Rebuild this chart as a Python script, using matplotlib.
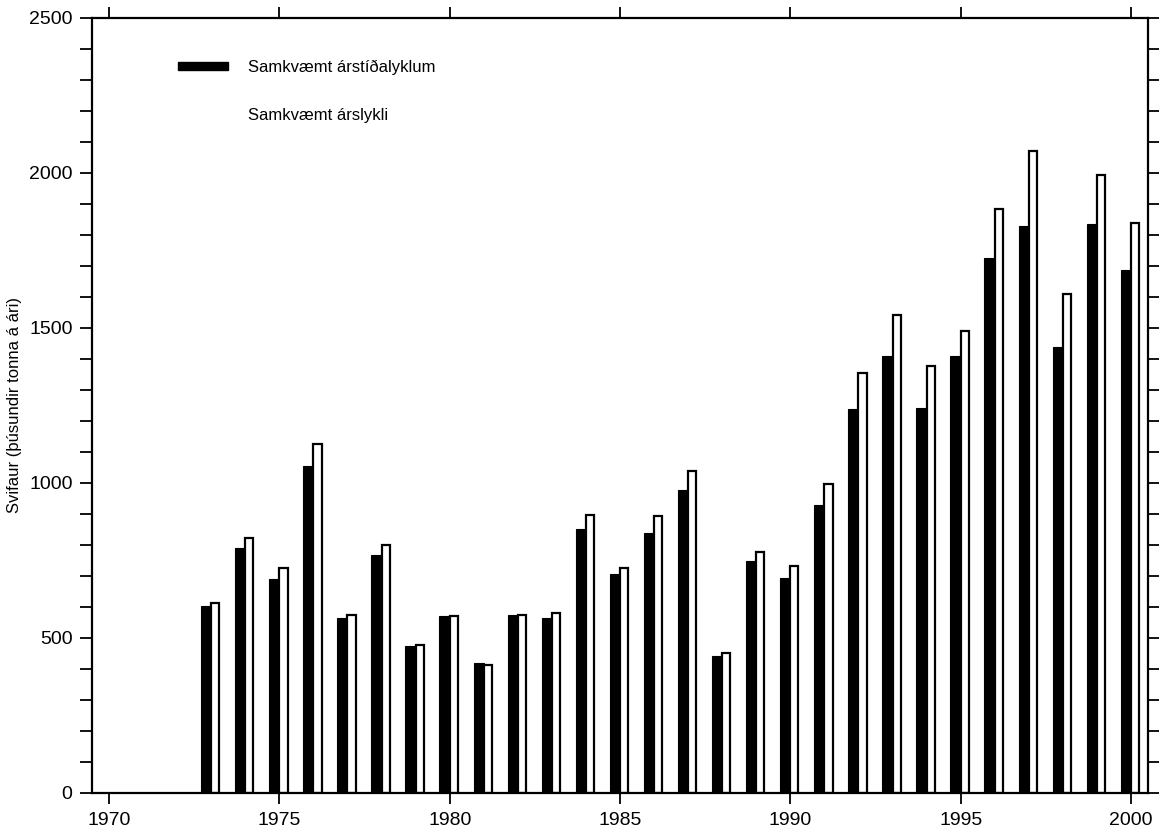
import matplotlib
matplotlib.use("Agg")
import matplotlib.pyplot as plt
from matplotlib.patches import Patch
from matplotlib.ticker import MultipleLocator
import numpy as np

plt.rcParams['font.family'] = ['Liberation Sans', 'DejaVu Sans']

# Data (thousand tonnes per year)
years = list(range(1973, 2001))
arstidalyklar = [603, 790, 690, 1055, 565, 768, 475, 570, 420, 575,
                 565, 850, 705, 840, 978, 443, 748, 693, 930, 1237,
                 1410, 1243, 1408, 1725, 1830, 1437, 1835, 1688]
arslykill = [613, 822, 725, 1125, 575, 800, 478, 570, 413, 575,
             580, 898, 725, 893, 1040, 450, 778, 733, 997, 1355,
             1543, 1377, 1490, 1885, 2070, 1610, 1993, 1838]
label_black = "Samkvæmt árstíðalyklum"
label_white = "Samkvæmt árslykli"
ylabel = "Svifaur (þúsundir tonna á ári)"

fig = plt.figure(figsize=(11.59, 8.34), dpi=100)
ax = fig.add_axes([0.0794, 0.0492, 0.9111, 0.9293])

x = np.array(years, dtype=float)
ax.bar(x, arstidalyklar, width=-0.3, align='edge', color='black', edgecolor='black', linewidth=0.8)
ax.bar(x, arslykill, width=0.24, align='edge', color='white', edgecolor='black', linewidth=1.6)

ax.set_xlim(1969.5, 2000.5)
ax.set_ylim(0, 2500)

ax.set_xticks(range(1970, 2001, 5))
ax.yaxis.set_major_locator(MultipleLocator(500))
ax.yaxis.set_minor_locator(MultipleLocator(100))
ax.tick_params(axis='x', which='major', direction='out', top=True, length=8, width=1.3,
               labelsize=14, pad=6)
ax.tick_params(axis='y', which='major', direction='out', right=True, length=9, width=1.3,
               labelsize=14, pad=5)
ax.tick_params(axis='y', which='minor', direction='out', right=True, length=9, width=1.3)
for s in ax.spines.values():
    s.set_linewidth(1.6)

ax.set_ylabel(ylabel, fontsize=12, labelpad=5)

handles = [Patch(facecolor='black', edgecolor='black'),
           Patch(facecolor='white', edgecolor='white')]
ax.legend(handles, [label_black, label_white], loc='upper left',
          bbox_to_anchor=(0.081, 0.946), frameon=False, fontsize=12,
          handlelength=3.0, handleheight=0.4, handletextpad=1.2,
          labelspacing=1.95, borderpad=0, borderaxespad=0)

fig.savefig("out.png", dpi=100)
